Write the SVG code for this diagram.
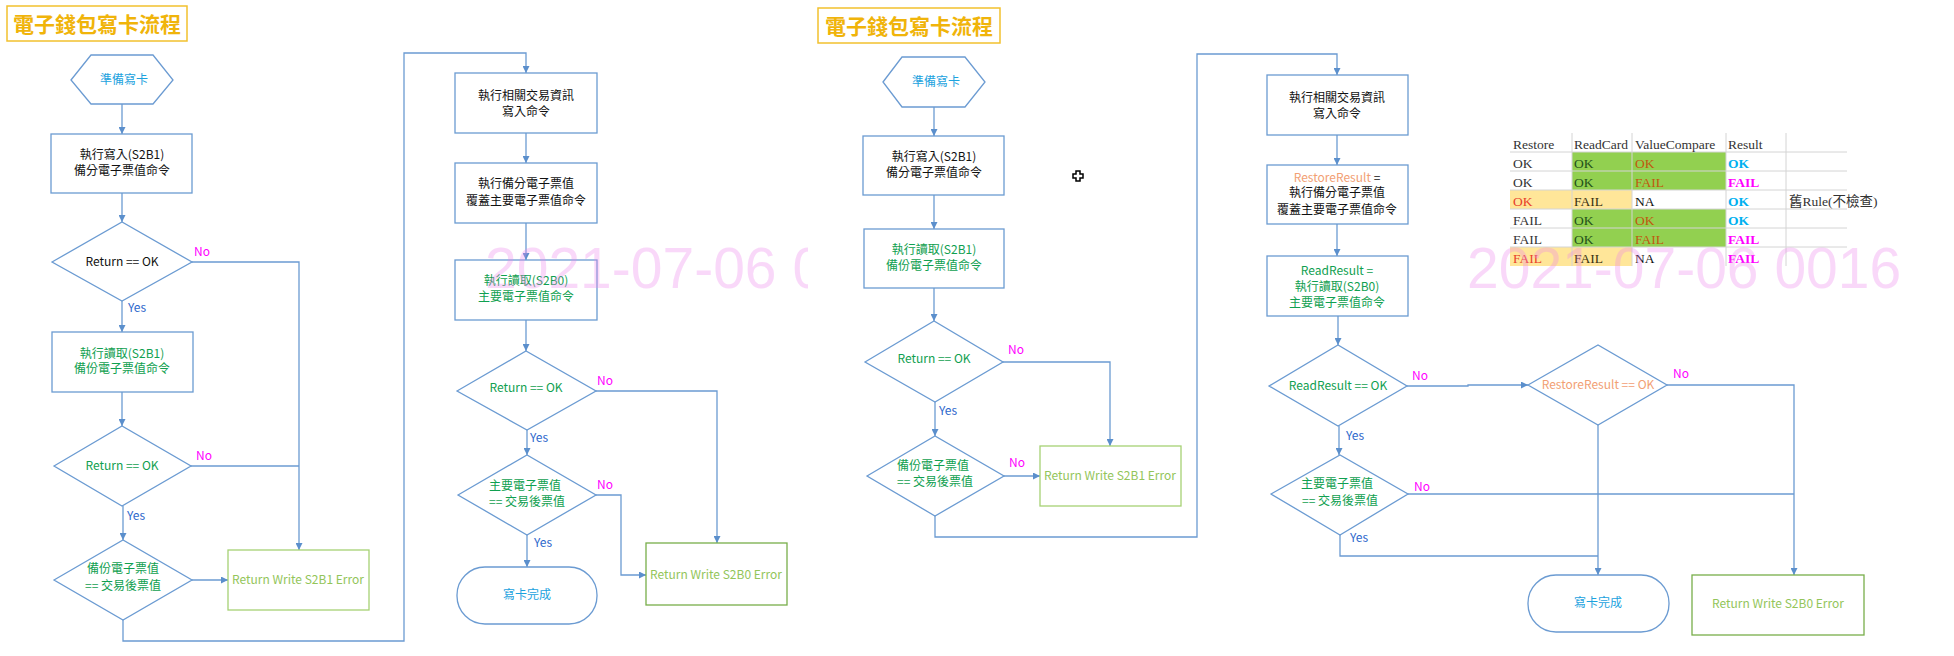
<svg xmlns="http://www.w3.org/2000/svg" width="1954" height="656" viewBox="0 0 1954 656">
<style>
.bg{fill:#fff}
.t{font-family:'Noto Sans CJK TC','Noto Sans CJK SC',sans-serif;font-size:12px;text-anchor:middle}
.title{font-family:'Noto Sans CJK TC','Noto Sans CJK SC',sans-serif;font-size:21px;font-weight:bold;fill:#F0B40A;text-anchor:middle}
.tbox{fill:#fff;stroke:#F2C12E;stroke-width:1.5}
.nd{fill:#fff;stroke:#6B9BD2;stroke-width:1.3}
.e1{fill:#fff;stroke:#A6D274;stroke-width:1.3}
.e2{fill:#fff;stroke:#78AE4A;stroke-width:1.3}
.ln{fill:none;stroke:#6B9BD2;stroke-width:1.3}
.blk{fill:#111}
.grn{fill:#10A050}
.cy{fill:#1CA2DE}
.err{fill:#93C55A}
.org{fill:#F2A074}
.no{fill:#FF00FF;font-family:'Noto Sans CJK TC',sans-serif;font-size:12px}
.yes{fill:#2E67CC;font-family:'Noto Sans CJK TC',sans-serif;font-size:12px}
.tb{font-family:'Liberation Serif','Noto Sans CJK TC',serif;font-size:13.5px}
.gl{stroke:#D4D4D4;stroke-width:1}
.wm{font-family:'Liberation Sans',sans-serif;font-size:57px;fill:#EE82EE;opacity:0.3}
</style>
<defs>
<marker id="ar" viewBox="0 0 10 10" refX="10" refY="5" markerWidth="7" markerHeight="7" markerUnits="userSpaceOnUse" orient="auto">
<path d="M0,0 L10,5 L0,10 z" fill="#5B8FCC"/>
</marker>
<clipPath id="clipL"><rect x="0" y="0" width="808" height="656"/></clipPath>
</defs>
<rect class="bg" x="0" y="0" width="1954" height="656"/>

<g id="connectors">
<!-- left diagram -->
<path class="ln" d="M122,104 V134" marker-end="url(#ar)"/>
<path class="ln" d="M122,193 V222" marker-end="url(#ar)"/>
<path class="ln" d="M192,262 H299 V550" marker-end="url(#ar)"/>
<path class="ln" d="M191,466 H299"/>
<path class="ln" d="M122,301 V332" marker-end="url(#ar)"/>
<path class="ln" d="M122,392 V426" marker-end="url(#ar)"/>
<path class="ln" d="M123,506 V540" marker-end="url(#ar)"/>
<path class="ln" d="M192,580 H228" marker-end="url(#ar)"/>
<path class="ln" d="M123,620 V641 H404 V53 H526 V73" marker-end="url(#ar)"/>
<path class="ln" d="M526,133 V163" marker-end="url(#ar)"/>
<path class="ln" d="M526,223 V260" marker-end="url(#ar)"/>
<path class="ln" d="M526,320 V351" marker-end="url(#ar)"/>
<path class="ln" d="M596,391 H717 V543" marker-end="url(#ar)"/>
<path class="ln" d="M527,430 V455" marker-end="url(#ar)"/>
<path class="ln" d="M596,495 H621 V575 H646" marker-end="url(#ar)"/>
<path class="ln" d="M527,535 V567" marker-end="url(#ar)"/>
<!-- right diagram -->
<path class="ln" d="M934,107 V136" marker-end="url(#ar)"/>
<path class="ln" d="M934,195 V229" marker-end="url(#ar)"/>
<path class="ln" d="M934,288 V321" marker-end="url(#ar)"/>
<path class="ln" d="M1003,362 H1110 V446" marker-end="url(#ar)"/>
<path class="ln" d="M935,402 V436" marker-end="url(#ar)"/>
<path class="ln" d="M1004,476 H1040" marker-end="url(#ar)"/>
<path class="ln" d="M935,516 V537 H1197 V54 H1337 V75" marker-end="url(#ar)"/>
<path class="ln" d="M1337,135 V165" marker-end="url(#ar)"/>
<path class="ln" d="M1337,224 V256" marker-end="url(#ar)"/>
<path class="ln" d="M1338,316 V345" marker-end="url(#ar)"/>
<path class="ln" d="M1407,386 H1468 V385 H1528" marker-end="url(#ar)"/>
<path class="ln" d="M1667,385 H1794 V575" marker-end="url(#ar)"/>
<path class="ln" d="M1339,426 V455" marker-end="url(#ar)"/>
<path class="ln" d="M1408,494 H1794"/>
<path class="ln" d="M1340,535 V556 H1598"/>
<path class="ln" d="M1598,425 V575" marker-end="url(#ar)"/>
</g>

<g id="labels">
<text class="no" x="194" y="256">No</text>
<text class="yes" x="128" y="312">Yes</text>
<text class="no" x="196" y="460">No</text>
<text class="yes" x="127" y="520">Yes</text>
<text class="no" x="597" y="385">No</text>
<text class="yes" x="530" y="442">Yes</text>
<text class="no" x="597" y="489">No</text>
<text class="yes" x="534" y="547">Yes</text>
<text class="no" x="1008" y="354">No</text>
<text class="yes" x="939" y="415">Yes</text>
<text class="no" x="1009" y="467">No</text>
<text class="no" x="1412" y="380">No</text>
<text class="no" x="1673" y="378">No</text>
<text class="yes" x="1346" y="440">Yes</text>
<text class="no" x="1414" y="491">No</text>
<text class="yes" x="1350" y="542">Yes</text>
</g>

<!-- Left diagram nodes -->
<g id="L-title"><rect class="tbox" x="7" y="6" width="180" height="35"/><text class="title" x="97" y="32">電子錢包寫卡流程</text></g>
<g id="L-start"><polygon class="nd" points="71,80 91,55 153,55 173,80 153,104 91,104"/><text class="t cy" x="124" y="84">準備寫卡</text></g>
<g id="L-write"><rect class="nd" x="51" y="134" width="141" height="59"/><text class="t blk" x="122" y="159">執行寫入(S2B1)</text><text class="t blk" x="122" y="175">備分電子票值命令</text></g>
<g id="L-dec1"><polygon class="nd" points="52,262 122,222 192,262 122,301"/><text class="t blk" x="122" y="266">Return == OK</text></g>
<g id="L-read"><rect class="nd" x="52" y="332" width="141" height="60"/><text class="t grn" x="122" y="358">執行讀取(S2B1)</text><text class="t grn" x="122" y="373">備份電子票值命令</text></g>
<g id="L-dec2"><polygon class="nd" points="54,466 122,426 191,466 122,506"/><text class="t grn" x="122" y="470">Return == OK</text></g>
<g id="L-dec3"><polygon class="nd" points="54,580 123,540 192,580 123,620"/><text class="t grn" x="123" y="573">備份電子票值</text><text class="t grn" x="123" y="590">== 交易後票值</text></g>
<g id="L-err1"><rect class="e1" x="228" y="550" width="141" height="60"/><text class="t err" x="298" y="584">Return Write S2B1 Error</text></g>
<g id="L-txn"><rect class="nd" x="455" y="73" width="142" height="60"/><text class="t blk" x="526" y="100">執行相關交易資訊</text><text class="t blk" x="526" y="116">寫入命令</text></g>
<g id="L-cover"><rect class="nd" x="455" y="163" width="142" height="60"/><text class="t blk" x="526" y="188">執行備分電子票值</text><text class="t blk" x="526" y="205">覆蓋主要電子票值命令</text></g>
<g id="L-read0"><rect class="nd" x="455" y="260" width="142" height="60"/><text class="t grn" x="526" y="285">執行讀取(S2B0)</text><text class="t grn" x="526" y="301">主要電子票值命令</text></g>
<g id="L-dec4"><polygon class="nd" points="457,391 526,351 596,391 527,430"/><text class="t grn" x="526" y="392">Return == OK</text></g>
<g id="L-dec5"><polygon class="nd" points="458,495 527,455 596,495 527,535"/><text class="t grn" x="525" y="490">主要電子票值</text><text class="t grn" x="527" y="506">== 交易後票值</text></g>
<g id="L-err2"><rect class="e2" x="646" y="543" width="141" height="62"/><text class="t err" x="716" y="579">Return Write S2B0 Error</text></g>
<g id="L-end"><rect class="nd" x="457" y="567" width="140" height="57" rx="28" ry="28"/><text class="t cy" x="527" y="599">寫卡完成</text></g>

<!-- Right diagram nodes -->
<g id="R-title"><rect class="tbox" x="818" y="8" width="182" height="35"/><text class="title" x="909" y="34">電子錢包寫卡流程</text></g>
<g id="R-start"><polygon class="nd" points="883,82 902,57 965,57 985,82 965,107 902,107"/><text class="t cy" x="936" y="86">準備寫卡</text></g>
<g id="R-write"><rect class="nd" x="863" y="136" width="141" height="59"/><text class="t blk" x="934" y="161">執行寫入(S2B1)</text><text class="t blk" x="934" y="177">備分電子票值命令</text></g>
<g id="R-read"><rect class="nd" x="864" y="229" width="140" height="59"/><text class="t grn" x="934" y="254">執行讀取(S2B1)</text><text class="t grn" x="934" y="270">備份電子票值命令</text></g>
<g id="R-dec1"><polygon class="nd" points="865,362 934,321 1003,362 935,402"/><text class="t grn" x="934" y="363">Return == OK</text></g>
<g id="R-dec2"><polygon class="nd" points="867,476 935,436 1004,476 935,516"/><text class="t grn" x="933" y="470">備份電子票值</text><text class="t grn" x="935" y="486">== 交易後票值</text></g>
<g id="R-err1"><rect class="e1" x="1040" y="446" width="141" height="60"/><text class="t err" x="1110" y="480">Return Write S2B1 Error</text></g>
<g id="R-txn"><rect class="nd" x="1267" y="75" width="141" height="60"/><text class="t blk" x="1337" y="102">執行相關交易資訊</text><text class="t blk" x="1337" y="118">寫入命令</text></g>
<g id="R-cover"><rect class="nd" x="1267" y="165" width="141" height="59"/><text class="t" x="1337" y="182"><tspan class="org">RestoreResult</tspan><tspan class="blk"> =</tspan></text><text class="t blk" x="1337" y="197">執行備分電子票值</text><text class="t blk" x="1337" y="214">覆蓋主要電子票值命令</text></g>
<g id="R-read0"><rect class="nd" x="1267" y="256" width="141" height="60"/><text class="t grn" x="1337" y="275">ReadResult =</text><text class="t grn" x="1337" y="291">執行讀取(S2B0)</text><text class="t grn" x="1337" y="307">主要電子票值命令</text></g>
<g id="R-dec3"><polygon class="nd" points="1269,386 1338,345 1407,386 1338,426"/><text class="t grn" x="1338" y="390">ReadResult == OK</text></g>
<g id="R-dec4"><polygon class="nd" points="1528,385 1598,345 1667,385 1598,425"/><text class="t org" x="1598" y="389">RestoreResult == OK</text></g>
<g id="R-dec5"><polygon class="nd" points="1271,494 1340,455 1408,494 1340,535"/><text class="t grn" x="1337" y="488">主要電子票值</text><text class="t grn" x="1340" y="505">== 交易後票值</text></g>
<g id="R-end"><rect class="nd" x="1528" y="575" width="141" height="57" rx="28" ry="28"/><text class="t cy" x="1598" y="607">寫卡完成</text></g>
<g id="R-err2"><rect class="e2" x="1692" y="575" width="172" height="60"/><text class="t err" x="1778" y="608">Return Write S2B0 Error</text></g>

<!-- Truth table -->
<g id="table">
<rect x="1572" y="152" width="154" height="38" fill="#92D050"/>
<rect x="1572" y="209" width="154" height="38" fill="#92D050"/>
<rect x="1510" y="190" width="122" height="19" fill="#FFE699"/>
<rect x="1510" y="247" width="122" height="19" fill="#FFE699"/>
<g class="gl">
<line x1="1510" y1="152" x2="1847" y2="152"/>
<line x1="1510" y1="171" x2="1847" y2="171"/>
<line x1="1510" y1="190" x2="1847" y2="190"/>
<line x1="1510" y1="209" x2="1847" y2="209"/>
<line x1="1510" y1="228" x2="1847" y2="228"/>
<line x1="1510" y1="247" x2="1847" y2="247"/>
<line x1="1572" y1="133" x2="1572" y2="266"/>
<line x1="1632" y1="133" x2="1632" y2="266"/>
<line x1="1726" y1="133" x2="1726" y2="266"/>
<line x1="1786" y1="133" x2="1786" y2="266"/>
</g>
<g class="tb">
<text x="1513" y="149" fill="#333">Restore</text><text x="1574" y="149" fill="#333">ReadCard</text><text x="1635" y="149" fill="#333">ValueCompare</text><text x="1728" y="149" fill="#333">Result</text>
<text x="1513" y="168" fill="#333">OK</text><text x="1574" y="168" fill="#24501A">OK</text><text x="1635" y="168" fill="#C0580F">OK</text><text x="1728" y="168" fill="#00B0F0" font-weight="bold">OK</text>
<text x="1513" y="187" fill="#333">OK</text><text x="1574" y="187" fill="#24501A">OK</text><text x="1635" y="187" fill="#C0580F">FAIL</text><text x="1728" y="187" fill="#FF00FF" font-weight="bold">FAIL</text>
<text x="1513" y="206" fill="#E8412A">OK</text><text x="1574" y="206" fill="#3A3210">FAIL</text><text x="1635" y="206" fill="#111">NA</text><text x="1728" y="206" fill="#00B0F0" font-weight="bold">OK</text><text x="1789" y="206" fill="#333">舊Rule(不檢查)</text>
<text x="1513" y="225" fill="#333">FAIL</text><text x="1574" y="225" fill="#24501A">OK</text><text x="1635" y="225" fill="#C0580F">OK</text><text x="1728" y="225" fill="#00B0F0" font-weight="bold">OK</text>
<text x="1513" y="244" fill="#333">FAIL</text><text x="1574" y="244" fill="#24501A">OK</text><text x="1635" y="244" fill="#C0580F">FAIL</text><text x="1728" y="244" fill="#FF00FF" font-weight="bold">FAIL</text>
<text x="1513" y="263" fill="#E8412A">FAIL</text><text x="1574" y="263" fill="#3A3210">FAIL</text><text x="1635" y="263" fill="#111">NA</text><text x="1728" y="263" fill="#FF00FF" font-weight="bold">FAIL</text>
</g>
</g>

<!-- cursor -->
<path d="M1076,171 H1080 V174 H1083 V178 H1080 V181 H1076 V178 H1073 V174 H1076 Z" fill="#fff" stroke="#000" stroke-width="1.5"/>

<!-- watermarks -->
<text class="wm" x="485" y="288" clip-path="url(#clipL)">2021-07-06  0016</text>
<text class="wm" x="1467" y="288">2021-07-06 0016</text>
</svg>
